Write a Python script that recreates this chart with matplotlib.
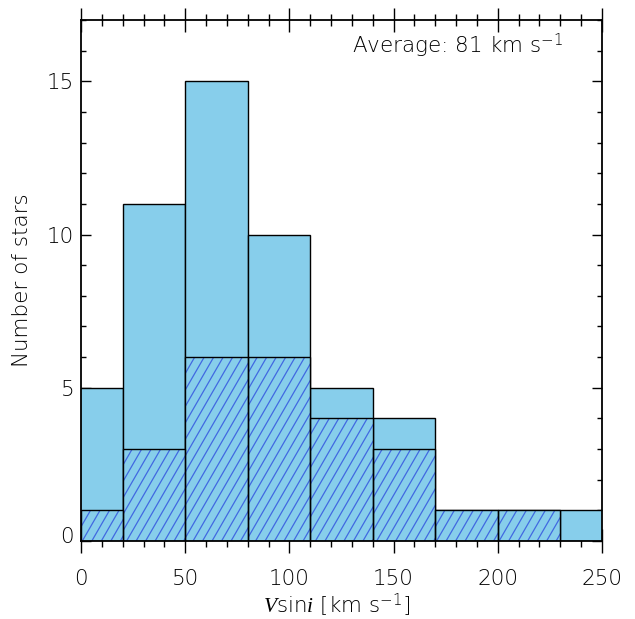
import numpy as np
import matplotlib
matplotlib.use('Agg')
import matplotlib.pyplot as plt
from matplotlib.patches import Rectangle
from matplotlib.collections import LineCollection
from matplotlib.ticker import MultipleLocator
import matplotlib.transforms as mtransforms

# v sin i histogram: all stars and the hatched subsample
bin_edges = [-10, 20, 50, 80, 110, 140, 170, 200, 230, 260]
all_counts = [5, 11, 15, 10, 5, 4, 1, 1, 1]
sub_counts = [1, 3, 6, 6, 4, 3, 1, 1, 0]
average_vsini = 81

FILL = '#87CEEB'
HATCH = '#4169E1'
plt.rcParams['font.weight'] = 'light'
plt.rcParams['mathtext.fontset'] = 'custom'
plt.rcParams['mathtext.rm'] = 'DejaVu Sans:light'
plt.rcParams['mathtext.it'] = 'Liberation Serif:italic'


def hatch_bar(ax, x0, x1, h, angle=60, spacing_px=9.5):
    xl, yl = ax.get_xlim(), ax.get_ylim()
    x0, x1 = max(x0, xl[0]), min(x1, xl[1])
    rect = Rectangle((x0, 0), x1 - x0, h, facecolor=FILL, edgecolor='none', zorder=2)
    ax.add_patch(rect)
    # slope and spacing in data units so the lines come out at the right pixel angle
    bb = ax.get_window_extent()
    px_x = bb.width / (xl[1] - xl[0])
    px_y = bb.height / (yl[1] - yl[0])
    slope = np.tan(np.radians(angle)) * px_x / px_y
    step = spacing_px / px_x
    segs = []
    c = x0 - h / slope - step
    while c < x1 + step:
        segs.append([(c, 0), (c + h / slope, h)])
        c += step
    lc = LineCollection(segs, colors=HATCH, linewidths=0.9, zorder=3)
    ax.add_collection(lc, autolim=False)
    lc.set_clip_path(rect)
    ax.add_patch(Rectangle((x0, 0), x1 - x0, h, facecolor='none',
                           edgecolor='black', linewidth=1.0, zorder=4))


fig = plt.figure(figsize=(6.35, 6.19), dpi=100)
ax = fig.add_axes([81 / 635, 1 - 541 / 619, 521 / 635, 521 / 619])
ax.set_xlim(0, 250)
ax.set_ylim(0, 17)

for i, n in enumerate(all_counts):
    ax.add_patch(Rectangle((bin_edges[i], 0), bin_edges[i + 1] - bin_edges[i], n,
                           facecolor=FILL, edgecolor='black', linewidth=1.0, zorder=1))
for i, n in enumerate(sub_counts):
    if n > 0:
        hatch_bar(ax, bin_edges[i], bin_edges[i + 1], n)

ax.set_axisbelow(True)
for s in ax.spines.values():
    s.set_linewidth(1.3)
    s.set_zorder(5)

ax.xaxis.set_major_locator(MultipleLocator(50))
ax.xaxis.set_minor_locator(MultipleLocator(10))
ax.yaxis.set_major_locator(MultipleLocator(5))
ax.yaxis.set_minor_locator(MultipleLocator(1))
ax.tick_params(axis='x', which='both', direction='inout', top=True, bottom=True,
               labelsize=15.5, pad=12, width=1.0)
ax.tick_params(axis='x', which='major', length=17)
ax.tick_params(axis='x', which='minor', length=8.6)
ax.tick_params(axis='y', which='both', direction='in', left=True, right=True,
               labelsize=15.5, pad=5, width=1.0)
ax.tick_params(axis='y', which='major', length=7)
ax.tick_params(axis='y', which='minor', length=3.6)
ax.set_yticks([0, 5, 10, 15])

fig.canvas.draw()
# lift the "0" label a little off the bottom axis
ax.get_yticklabels()[0].set_transform(
    ax.get_yticklabels()[0].get_transform()
    + mtransforms.ScaledTranslation(0, 6 / 100, fig.dpi_scale_trans))

fig.text(22 / 635, 1 - 280 / 619, 'Number of stars', rotation=90,
         ha='center', va='center', fontsize=15.5)
fig.text(337 / 635, 1 - 605 / 619, r'$\mathit{V}$sin$\mathit{i}$ [km s$^{-1}$]',
         ha='center', va='center', fontsize=15.5)
fig.text(352 / 635, 1 - 52 / 619, 'Average: %d km s$^{-1}$' % average_vsini,
         ha='left', va='baseline', fontsize=15.5)

fig.savefig('out.png', dpi=100)
